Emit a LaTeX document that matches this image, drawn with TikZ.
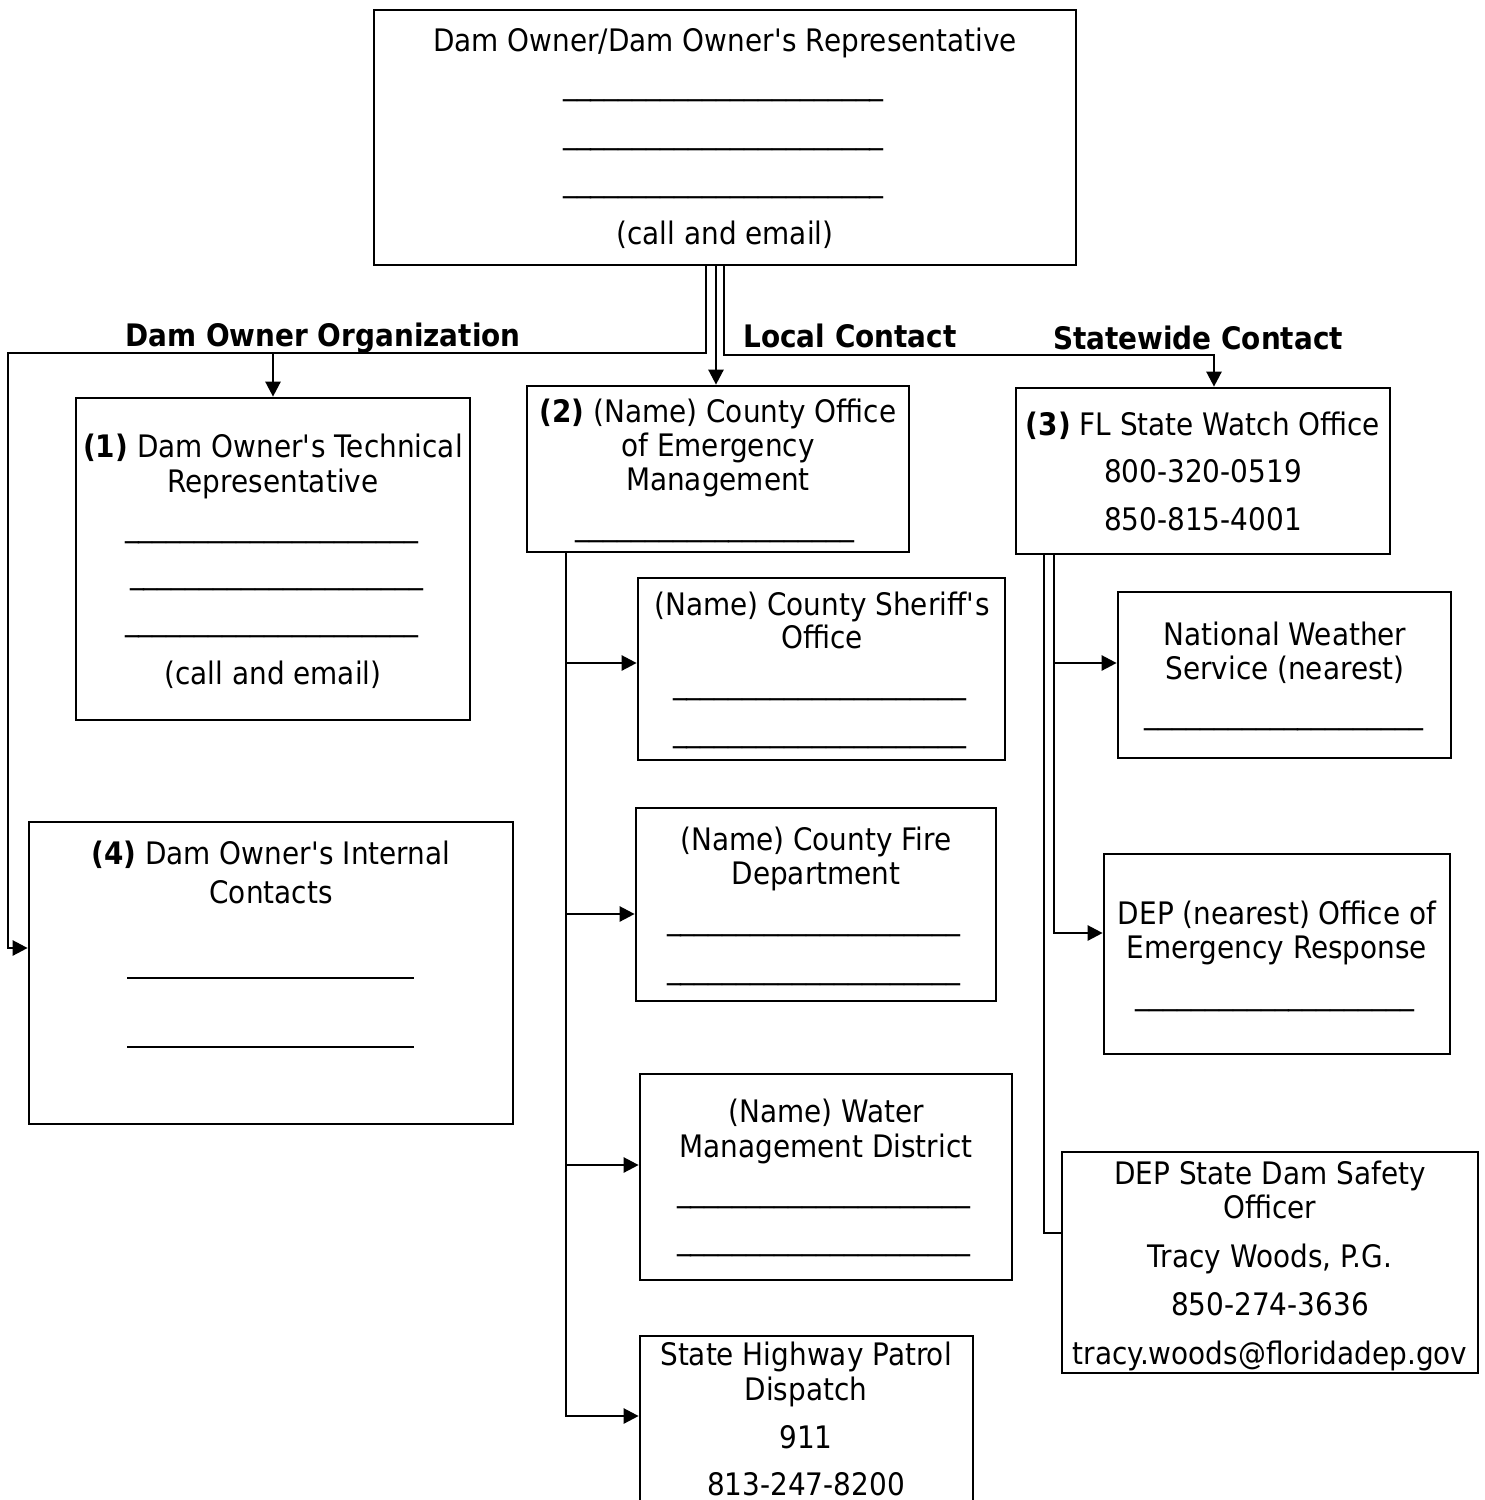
\documentclass[tikz,border=0pt]{standalone}
\usepackage{fontspec}
\setmainfont{DejaVu Sans}[FakeStretch=0.9]
\usetikzlibrary{arrows.meta}
\newcommand\ulines[1]{\foreach\k in {1,...,#1}{\_}}
\newcommand\q{\textquotesingle}
\begin{document}
\begin{tikzpicture}[x=1pt,y=1pt,
  box/.style={draw,line width=2.7pt,inner sep=0pt},
  txt/.style={anchor=base,inner sep=0pt,font=\fontsize{31}{34}\selectfont},
  lbl/.style={anchor=base,inner sep=0pt,font=\fontsize{31}{34}\selectfont\bfseries},
  conn/.style={line width=2.5pt},
  arr/.style={line width=2.5pt,-{Triangle[length=15pt,width=15pt]}},
  thinrule/.style={line width=1.1pt}]
\clip (0,0) rectangle (1484,-1500);
\fill[white] (0,0) rectangle (1484,-1500);
% boxes
\node[box,minimum width=702pt,minimum height=255pt] (top) at (725,-137.5) {};
\node[box,minimum width=394pt,minimum height=322pt] (b1) at (273,-559) {};
\node[box,minimum width=382pt,minimum height=166pt] (b2) at (718,-469) {};
\node[box,minimum width=374pt,minimum height=166pt] (b3) at (1203,-471) {};
\node[box,minimum width=484pt,minimum height=302pt] (b4) at (271,-973) {};
\node[box,minimum width=367pt,minimum height=182pt] (sher) at (821.5,-669) {};
\node[box,minimum width=360pt,minimum height=193pt] (fire) at (816,-904.5) {};
\node[box,minimum width=372pt,minimum height=206pt] (water) at (826,-1177) {};
\node[box,minimum width=333pt,minimum height=194pt] (hwy) at (806.5,-1433) {};
\node[box,minimum width=333pt,minimum height=166pt] (nws) at (1284.5,-675) {};
\node[box,minimum width=346pt,minimum height=200pt] (dep) at (1277,-954) {};
\node[box,minimum width=416pt,minimum height=221pt] (dss) at (1270,-1262.5) {};
% top box text
\node[txt] (t1) at (725,-51) {Dam Owner/Dam Owner\q s Representative};
\node[txt] (t2) at (723.5,-94.6) {\ulines{23}};
\node[txt] (t3) at (723.5,-143.6) {\ulines{23}};
\node[txt] (t4) at (723.5,-191.6) {\ulines{23}};
\node[txt] (t5) at (725,-244) {(call and email)};
% box 1
\node[txt] (a1) at (273,-457) {\textbf{(1)} Dam Owner\q s Technical};
\node[txt] (a2) at (273,-492) {Representative};
\node[txt] (a3) at (271.5,-536.6) {\ulines{21}};
\node[txt] (a4) at (276.5,-583.6) {\ulines{21}};
\node[txt] (a5) at (271.5,-630.6) {\ulines{21}};
\node[txt] (a6) at (273,-684) {(call and email)};
% box 2
\node[txt] (c1) at (718,-422) {\textbf{(2)} (Name) County Office};
\node[txt] (c2) at (718,-456) {of Emergency};
\node[txt] (c3) at (718,-490) {Management};
\node[txt] (c4) at (715,-535.6) {\ulines{20}};
% box 3
\node[txt] (d1) at (1203,-435) {\textbf{(3)} FL State Watch Office};
\node[txt] (d2) at (1203,-482) {800-320-0519};
\node[txt] (d3) at (1203,-530) {850-815-4001};
% box 4
\node[txt] (e1) at (271,-864) {\textbf{(4)} Dam Owner\q s Internal};
\node[txt] (e2) at (271,-903) {Contacts};
\draw[thinrule] (127,-978) -- (414,-978);
\draw[thinrule] (127,-1047) -- (414,-1047);
% sheriff
\node[txt] (s1) at (822,-615) {(Name) County Sheriff\q s};
\node[txt] (s2) at (822,-648) {Office};
\node[txt] (s3) at (819.5,-693.6) {\ulines{21}};
\node[txt] (s4) at (819.5,-741.6) {\ulines{21}};
% fire
\node[txt] (f1) at (816,-850) {(Name) County Fire};
\node[txt] (f2) at (816,-884) {Department};
\node[txt] (f3) at (813.5,-929.6) {\ulines{21}};
\node[txt] (f4) at (813.5,-978.6) {\ulines{21}};
% water
\node[txt] (w1) at (826,-1122) {(Name) Water};
\node[txt] (w2) at (826,-1157) {Management District};
\node[txt] (w3) at (823.5,-1201.6) {\ulines{21}};
\node[txt] (w4) at (823.5,-1249.6) {\ulines{21}};
% highway
\node[txt] (h1) at (806,-1365) {State Highway Patrol};
\node[txt] (h2) at (806,-1400) {Dispatch};
\node[txt] (h3) at (806,-1448) {911};
\node[txt] (h4) at (806,-1495) {813-247-8200};
% nws
\node[txt] (n1) at (1285,-645) {National Weather};
\node[txt] (n2) at (1285,-679) {Service (nearest)};
\node[txt] (n3) at (1284,-723.6) {\ulines{20}};
% dep nearest
\node[txt] (p1) at (1277,-924) {DEP (nearest) Office of};
\node[txt] (p2) at (1277,-958) {Emergency Response};
\node[txt] (p3) at (1275,-1004.6) {\ulines{20}};
% dep state
\node[txt] (q1) at (1270,-1184) {DEP State Dam Safety};
\node[txt] (q2) at (1270,-1218) {Officer};
\node[txt] (q3) at (1270,-1267) {Tracy Woods, P.G.};
\node[txt] (q4) at (1270,-1315) {850-274-3636};
\node[txt] (q5) at (1270,-1364) {tracy.woods@floridadep.gov};
% labels
\node[lbl] (L1) at (323,-346) {Dam Owner Organization};
\node[lbl] (L2) at (850,-347) {Local Contact};
\node[lbl] (L3) at (1198,-349) {Statewide Contact};
% connectors
\coordinate (jA) at (706,-353);
\coordinate (jL) at (8,-353);
\coordinate (jB) at (273,-353);
\coordinate (jC) at (724,-355);
\coordinate (jD) at (1214,-355);
\draw[arr] (top.south -| jA) -- (jA) -- (jL) -- (jL |- 0,-948) -- (b4.west |- 0,-948);
\draw[arr] (jB) -- (jB |- b1.north);
\draw[arr] (716,0 |- top.south) -- (716,0 |- b2.north);
\draw[arr] (top.south -| jC) -- (jC) -- (jD) -- (jD |- b3.north);
% local
\draw[arr] (566,0 |- b2.south) |- (hwy.west |- 0,-1416);
\draw[arr] (566,-663) -- (sher.west |- 0,-663);
\draw[arr] (566,-914) -- (fire.west |- 0,-914);
\draw[arr] (566,-1165) -- (water.west |- 0,-1165);
% statewide
\draw[arr] (1054,0 |- b3.south) |- (dep.west |- 0,-933);
\draw[arr] (1054,-663) -- (nws.west |- 0,-663);
\draw[conn] (1044,0 |- b3.south) |- (dss.west |- 0,-1233);
\end{tikzpicture}
\end{document}
